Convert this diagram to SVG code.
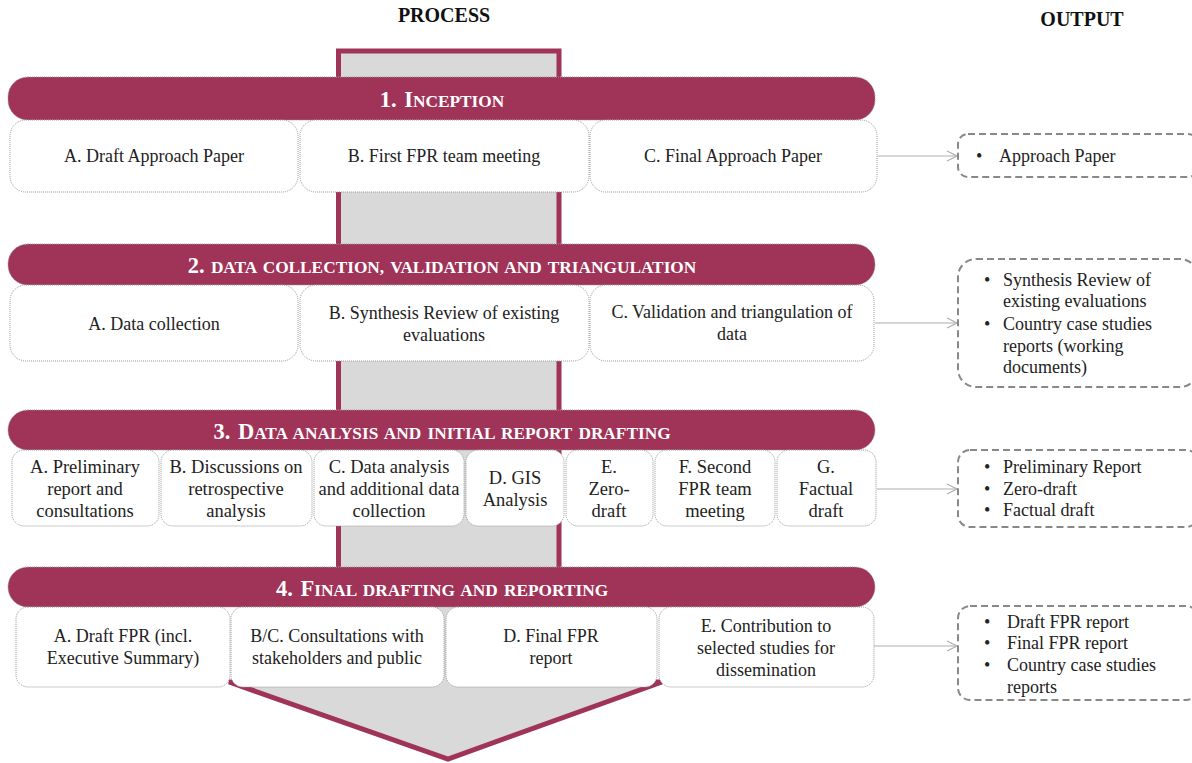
<svg xmlns="http://www.w3.org/2000/svg" width="1192" height="763" viewBox="0 0 1192 763">
<defs>
<style>
.hdr{font-family:"Liberation Serif","Times New Roman",serif;font-weight:bold;font-size:20px;fill:#111;text-anchor:middle}
.ban{fill:#A03358;stroke:#999;stroke-width:1;stroke-dasharray:1 1}
.bt{font-family:"Liberation Serif","Times New Roman",serif;font-weight:bold;fill:#fff;text-anchor:middle;word-spacing:2px}
.big{font-size:22.5px}
.sc{font-size:17.3px}
.box{fill:#fff;stroke:#999;stroke-width:1;stroke-dasharray:1 1}
.t{font-family:"Liberation Serif","Times New Roman",serif;font-size:18px;fill:#222;text-anchor:middle}
.t3{font-size:18.5px}
.ob{fill:#fff;stroke:#888;stroke-width:2;stroke-dasharray:7 4}
.ot{font-family:"Liberation Serif","Times New Roman",serif;font-size:18px;fill:#222}
.con{stroke:#c8c8c8;stroke-width:1.5;fill:none}
</style>
<marker id="arr" markerWidth="12" markerHeight="12" refX="11" refY="6" orient="auto" markerUnits="userSpaceOnUse">
<path d="M1,1 L11,6 L1,11" fill="none" stroke="#b0b0b0" stroke-width="1.3"/>
</marker>
</defs>
<rect width="1192" height="763" fill="#fff"/>
<text class="hdr" x="444" y="22">PROCESS</text>
<text class="hdr" x="1082" y="26">OUTPUT</text>

<g id="bigArrow">
<polygon points="338.5,51 559,51 559,682 662,682 448,759 229,682 338.5,682" fill="#d9d9d9" stroke="#A03358" stroke-width="5" stroke-linejoin="miter"/>
</g>

<g id="connectors">
<line class="con" x1="878" y1="156" x2="957" y2="156" marker-end="url(#arr)"/>
<line class="con" x1="875" y1="323" x2="957" y2="323" marker-end="url(#arr)"/>
<line class="con" x1="877" y1="489" x2="957" y2="489" marker-end="url(#arr)"/>
<line class="con" x1="874" y1="646" x2="957" y2="646" marker-end="url(#arr)"/>
</g>

<g id="phase1">
<rect class="ban" x="8" y="77" width="867" height="43" rx="20"/>
<text class="bt" x="442" y="107"><tspan class="big">1. I</tspan><tspan class="sc">NCEPTION</tspan></text>
</g>
<g id="p1a"><rect class="box" x="10" y="120" width="288" height="72" rx="16"/><text class="t" x="154" y="162">A. Draft Approach Paper</text></g>
<g id="p1b"><rect class="box" x="300" y="120" width="289" height="72" rx="16"/><text class="t" x="444" y="162">B. First FPR team meeting</text></g>
<g id="p1c"><rect class="box" x="590" y="120" width="287" height="72" rx="16"/><text class="t" x="733" y="162">C. Final Approach Paper</text></g>

<g id="phase2">
<rect class="ban" x="8" y="244" width="867" height="41" rx="20"/>
<text class="bt" x="442" y="273"><tspan class="big">2.</tspan><tspan class="sc"> DATA COLLECTION, VALIDATION AND TRIANGULATION</tspan></text>
</g>
<g id="p2a"><rect class="box" x="10" y="285" width="288" height="76" rx="16"/><text class="t" x="154" y="330">A. Data collection</text></g>
<g id="p2b"><rect class="box" x="300" y="285" width="289" height="76" rx="16"/><text class="t" x="444" y="319">B. Synthesis Review of existing</text><text class="t" x="444" y="341">evaluations</text></g>
<g id="p2c"><rect class="box" x="590" y="285" width="284" height="76" rx="16"/><text class="t" x="732" y="318">C. Validation and triangulation of</text><text class="t" x="732" y="340">data</text></g>

<g id="phase3">
<rect class="ban" x="8" y="410" width="867" height="40" rx="20"/>
<text class="bt" x="442" y="439"><tspan class="big">3. D</tspan><tspan class="sc">ATA ANALYSIS AND INITIAL REPORT DRAFTING</tspan></text>
</g>
<g id="p3a"><rect class="box" x="12" y="450" width="147" height="76" rx="12"/><text class="t t3" x="85" y="473">A. Preliminary</text><text class="t t3" x="85" y="495">report and</text><text class="t t3" x="85" y="517">consultations</text></g>
<g id="p3b"><rect class="box" x="161" y="450" width="151" height="76" rx="12"/><text class="t t3" x="236" y="473">B. Discussions on</text><text class="t t3" x="236" y="495">retrospective</text><text class="t t3" x="236" y="517">analysis</text></g>
<g id="p3c"><rect class="box" x="314" y="450" width="150" height="76" rx="12"/><text class="t t3" x="389" y="473">C. Data analysis</text><text class="t t3" x="389" y="495">and additional data</text><text class="t t3" x="389" y="517">collection</text></g>
<g id="p3d"><rect class="box" x="466" y="450" width="98" height="76" rx="12"/><text class="t t3" x="515" y="484">D. GIS</text><text class="t t3" x="515" y="506">Analysis</text></g>
<g id="p3e"><rect class="box" x="566" y="450" width="87" height="76" rx="12"/><text class="t t3" x="609" y="473">E.</text><text class="t t3" x="609" y="495">Zero-</text><text class="t t3" x="609" y="517">draft</text></g>
<g id="p3f"><rect class="box" x="655" y="450" width="120" height="76" rx="12"/><text class="t t3" x="715" y="473">F. Second</text><text class="t t3" x="715" y="495">FPR team</text><text class="t t3" x="715" y="517">meeting</text></g>
<g id="p3g"><rect class="box" x="777" y="450" width="99" height="76" rx="12"/><text class="t t3" x="826" y="473">G.</text><text class="t t3" x="826" y="495">Factual</text><text class="t t3" x="826" y="517">draft</text></g>

<g id="phase4">
<rect class="ban" x="8" y="567" width="867" height="40" rx="20"/>
<text class="bt" x="442" y="596"><tspan class="big">4. F</tspan><tspan class="sc">INAL DRAFTING AND REPORTING</tspan></text>
</g>
<g id="p4a"><rect class="box" x="16" y="607" width="214" height="80" rx="12"/><text class="t" x="123" y="642">A. Draft FPR (incl.</text><text class="t" x="123" y="664">Executive Summary)</text></g>
<g id="p4b"><rect class="box" x="231" y="607" width="213" height="80" rx="12"/><text class="t" x="337" y="642">B/C. Consultations with</text><text class="t" x="337" y="664">stakeholders and public</text></g>
<g id="p4d"><rect class="box" x="446" y="607" width="211" height="80" rx="12"/><text class="t" x="551" y="642">D. Final FPR</text><text class="t" x="551" y="664">report</text></g>
<g id="p4e"><rect class="box" x="659" y="607" width="215" height="80" rx="12"/><text class="t" x="766" y="632">E. Contribution to</text><text class="t" x="766" y="654">selected studies for</text><text class="t" x="766" y="676">dissemination</text></g>

<g id="out1"><rect class="ob" x="958" y="134" width="240" height="43" rx="10"/><text class="ot" x="976" y="162">•</text><text class="ot" x="999" y="162">Approach Paper</text></g>
<g id="out2"><rect class="ob" x="958" y="259" width="240" height="128" rx="18"/>
<text class="ot" x="984" y="286">•</text><text class="ot" x="1003" y="286">Synthesis Review of</text><text class="ot" x="1003" y="307">existing evaluations</text>
<text class="ot" x="984" y="330">•</text><text class="ot" x="1003" y="330">Country case studies</text><text class="ot" x="1003" y="352">reports (working</text><text class="ot" x="1003" y="373">documents)</text></g>
<g id="out3"><rect class="ob" x="958" y="450" width="240" height="77" rx="12"/>
<text class="ot" x="984" y="473">•</text><text class="ot" x="1003" y="473">Preliminary Report</text>
<text class="ot" x="984" y="495">•</text><text class="ot" x="1003" y="495">Zero-draft</text>
<text class="ot" x="984" y="516">•</text><text class="ot" x="1003" y="516">Factual draft</text></g>
<g id="out4"><rect class="ob" x="958" y="606" width="240" height="94" rx="12"/>
<text class="ot" x="984" y="628">•</text><text class="ot" x="1007" y="628">Draft FPR report</text>
<text class="ot" x="984" y="649">•</text><text class="ot" x="1007" y="649">Final FPR report</text>
<text class="ot" x="984" y="671">•</text><text class="ot" x="1007" y="671">Country case studies</text><text class="ot" x="1007" y="693">reports</text></g>
</svg>
